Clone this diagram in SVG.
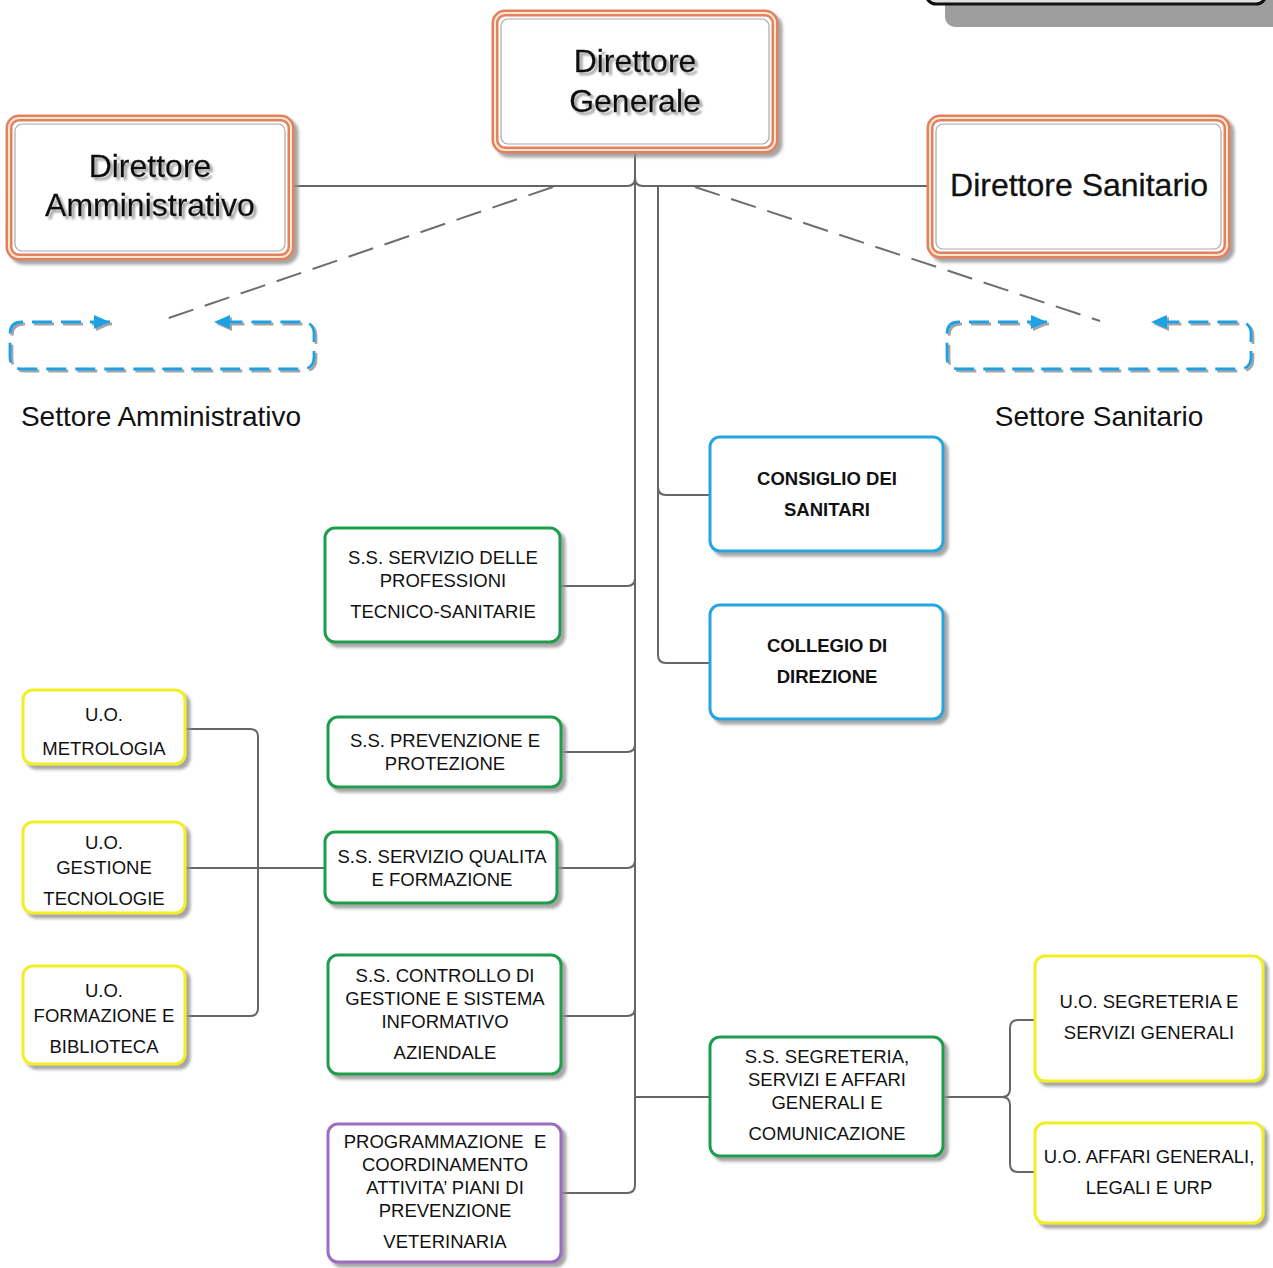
<svg xmlns="http://www.w3.org/2000/svg" width="1273" height="1268" viewBox="0 0 1273 1268">
<defs>
<filter id="sh" x="-10%" y="-10%" width="130%" height="130%">
<feDropShadow dx="4" dy="4" stdDeviation="1.5" flood-color="#8f8f8f" flood-opacity="0.8"/>
</filter>
<filter id="tsh" x="-10%" y="-20%" width="130%" height="150%">
<feDropShadow dx="3" dy="3" stdDeviation="0.8" flood-color="#9a9a9a" flood-opacity="0.9"/>
</filter>
<filter id="dsh" x="-10%" y="-30%" width="130%" height="170%">
<feDropShadow dx="2" dy="2" stdDeviation="0.6" flood-color="#9a9a9a" flood-opacity="0.9"/>
</filter>
<marker id="arr" viewBox="0 0 16 14" refX="16" refY="7" markerWidth="16" markerHeight="14" markerUnits="userSpaceOnUse" orient="auto-start-reverse">
<path d="M0,0 L16,7 L0,14 Z" fill="#1ba1e2"/>
</marker>
<style>
text{font-family:"Liberation Sans",Arial,sans-serif;fill:#111;text-anchor:middle;white-space:pre}
.big{font-size:32px;stroke:#111;stroke-width:0.3}
.sm{font-size:18.5px}
.b{font-weight:bold}
.conn{fill:none;stroke:#666;stroke-width:2}
.dash{fill:none;stroke:#6e6e6e;stroke-width:2;stroke-dasharray:26 12}
.bd{fill:none;stroke:#1ba1e2;stroke-width:2.8;stroke-dasharray:20 9}
.box{fill:#fff;stroke-width:3;filter:url(#sh)}
.g{stroke:#1f9e4d}
.bl{stroke:#27a6e0}
.y{stroke:#f2ee22}
.p{stroke:#9d6cc0}
.o1{fill:#fff;stroke:#e2805e;stroke-width:7;filter:url(#sh)}
.o2{fill:none;stroke:#fde9cf;stroke-width:2}
.o3{fill:none;stroke:#a9a9a9;stroke-width:1.2}
</style>
</defs>
<rect width="1273" height="1268" fill="#fff"/>

<g id="legend-fragment">
<rect x="945" y="-25" width="345" height="52" rx="10" fill="#9e9e9e"/>
<rect x="926" y="-45" width="340" height="49" rx="10" fill="#e2e2e2" stroke="#111" stroke-width="3"/>
</g>

<g id="connectors">
<path class="conn" d="M635,153 V1185 Q635,1193 627,1193 H561"/>
<path class="conn" d="M292,186 H627 Q635,186 635,178"/>
<path class="conn" d="M930,186 H643 Q635,186 635,178"/>
<path class="conn" d="M658,186 V655 Q658,663 666,663 H710"/>
<path class="conn" d="M658,487 Q658,495 666,495 H710"/>
<path class="conn" d="M560,586 H627 Q635,586 635,578"/>
<path class="conn" d="M561,752 H627 Q635,752 635,744"/>
<path class="conn" d="M557,868 H627 Q635,868 635,860"/>
<path class="conn" d="M561,1016 H627 Q635,1016 635,1008"/>
<path class="conn" d="M635,1097 H710"/>
<path class="conn" d="M185,729 H250 Q258,729 258,737 V1008 Q258,1016 250,1016 H185"/>
<path class="conn" d="M185,868 H325"/>
<path class="conn" d="M943,1097 H1002 Q1010,1097 1010,1089 V1028 Q1010,1020 1018,1020 H1035"/>
<path class="conn" d="M1002,1097 Q1010,1097 1010,1105 V1164 Q1010,1172 1018,1172 H1035"/>
<path class="dash" d="M553,187 L160,321"/>
<path class="dash" d="M695,187 L1100,321"/>
</g>

<g id="direttore-generale">
<rect class="o1" x="495" y="13" width="280" height="137" rx="10"/>
<rect class="o2" x="495" y="13" width="280" height="137" rx="10"/>
<rect class="o3" x="501" y="19" width="268" height="125" rx="7"/>
<g filter="url(#tsh)">
<text class="big" x="635" y="72">Direttore</text>
<text class="big" x="635" y="112">Generale</text>
</g>
</g>

<g id="direttore-amministrativo">
<rect class="o1" x="9" y="118" width="282" height="139" rx="10"/>
<rect class="o2" x="9" y="118" width="282" height="139" rx="10"/>
<rect class="o3" x="15" y="124" width="270" height="127" rx="7"/>
<g filter="url(#tsh)">
<text class="big" x="150" y="177">Direttore</text>
<text class="big" x="150" y="216">Amministrativo</text>
</g>
</g>

<g id="direttore-sanitario">
<rect class="o1" x="930" y="118" width="297" height="137" rx="10"/>
<rect class="o2" x="930" y="118" width="297" height="137" rx="10"/>
<rect class="o3" x="936" y="124" width="285" height="125" rx="7"/>
<text class="big" x="1079" y="196">Direttore Sanitario</text>
</g>

<g id="settore-amministrativo">
<path class="bd" filter="url(#dsh)" marker-start="url(#arr)" marker-end="url(#arr)" d="M110,322 H22 Q10,322 10,334 V357 Q10,369 22,369 H302 Q314,369 314,357 V334 Q314,322 302,322 H214"/>
<text x="161" y="426" style="font-size:28px">Settore Amministrativo</text>
</g>

<g id="settore-sanitario">
<path class="bd" filter="url(#dsh)" marker-start="url(#arr)" marker-end="url(#arr)" d="M1047,322 H959 Q947,322 947,334 V357 Q947,369 959,369 H1239 Q1251,369 1251,357 V334 Q1251,322 1239,322 H1151"/>
<text x="1099" y="426" style="font-size:28px">Settore Sanitario</text>
</g>

<g id="consiglio-sanitari">
<rect class="box bl" x="710" y="437" width="233" height="114" rx="10"/>
<text class="sm b" x="827" y="485">CONSIGLIO DEI</text>
<text class="sm b" x="827" y="516">SANITARI</text>
</g>

<g id="collegio-direzione">
<rect class="box bl" x="710" y="605" width="233" height="114" rx="10"/>
<text class="sm b" x="827" y="652">COLLEGIO DI</text>
<text class="sm b" x="827" y="683">DIREZIONE</text>
</g>

<g id="ss-professioni">
<rect class="box g" x="325" y="528" width="235" height="114" rx="10"/>
<text class="sm" x="443" y="564">S.S. SERVIZIO DELLE</text>
<text class="sm" x="443" y="587">PROFESSIONI</text>
<text class="sm" x="443" y="618">TECNICO-SANITARIE</text>
</g>

<g id="ss-prevenzione">
<rect class="box g" x="328" y="717" width="233" height="70" rx="10"/>
<text class="sm" x="445" y="747">S.S. PREVENZIONE E</text>
<text class="sm" x="445" y="770">PROTEZIONE</text>
</g>

<g id="ss-qualita">
<rect class="box g" x="325" y="832" width="232" height="71" rx="10"/>
<text class="sm" x="442" y="863">S.S. SERVIZIO QUALITA</text>
<text class="sm" x="442" y="886">E FORMAZIONE</text>
</g>

<g id="ss-controllo">
<rect class="box g" x="328" y="955" width="233" height="119" rx="10"/>
<text class="sm" x="445" y="982">S.S. CONTROLLO DI</text>
<text class="sm" x="445" y="1005">GESTIONE E SISTEMA</text>
<text class="sm" x="445" y="1028">INFORMATIVO</text>
<text class="sm" x="445" y="1059">AZIENDALE</text>
</g>

<g id="programmazione-veterinaria">
<rect class="box p" x="328" y="1124" width="233" height="138" rx="10"/>
<text class="sm" x="445" y="1148">PROGRAMMAZIONE  E</text>
<text class="sm" x="445" y="1171">COORDINAMENTO</text>
<text class="sm" x="445" y="1194">ATTIVITA’ PIANI DI</text>
<text class="sm" x="445" y="1217">PREVENZIONE</text>
<text class="sm" x="445" y="1248">VETERINARIA</text>
</g>

<g id="ss-segreteria">
<rect class="box g" x="710" y="1037" width="233" height="119" rx="10"/>
<text class="sm" x="827" y="1063">S.S. SEGRETERIA,</text>
<text class="sm" x="827" y="1086">SERVIZI E AFFARI</text>
<text class="sm" x="827" y="1109">GENERALI E</text>
<text class="sm" x="827" y="1140">COMUNICAZIONE</text>
</g>

<g id="uo-metrologia">
<rect class="box y" x="23" y="690" width="162" height="74" rx="10"/>
<text class="sm" x="104" y="721">U.O.</text>
<text class="sm" x="104" y="755">METROLOGIA</text>
</g>

<g id="uo-gestione-tecnologie">
<rect class="box y" x="23" y="822" width="162" height="91" rx="10"/>
<text class="sm" x="104" y="849">U.O.</text>
<text class="sm" x="104" y="874">GESTIONE</text>
<text class="sm" x="104" y="905">TECNOLOGIE</text>
</g>

<g id="uo-formazione-biblioteca">
<rect class="box y" x="23" y="966" width="162" height="98" rx="10"/>
<text class="sm" x="104" y="997">U.O.</text>
<text class="sm" x="104" y="1022">FORMAZIONE E</text>
<text class="sm" x="104" y="1053">BIBLIOTECA</text>
</g>

<g id="uo-segreteria">
<rect class="box y" x="1035" y="956" width="228" height="125" rx="10"/>
<text class="sm" x="1149" y="1008">U.O. SEGRETERIA E</text>
<text class="sm" x="1149" y="1039">SERVIZI GENERALI</text>
</g>

<g id="uo-affari-generali">
<rect class="box y" x="1035" y="1123" width="228" height="100" rx="10"/>
<text class="sm" x="1149" y="1163">U.O. AFFARI GENERALI,</text>
<text class="sm" x="1149" y="1194">LEGALI E URP</text>
</g>
</svg>
